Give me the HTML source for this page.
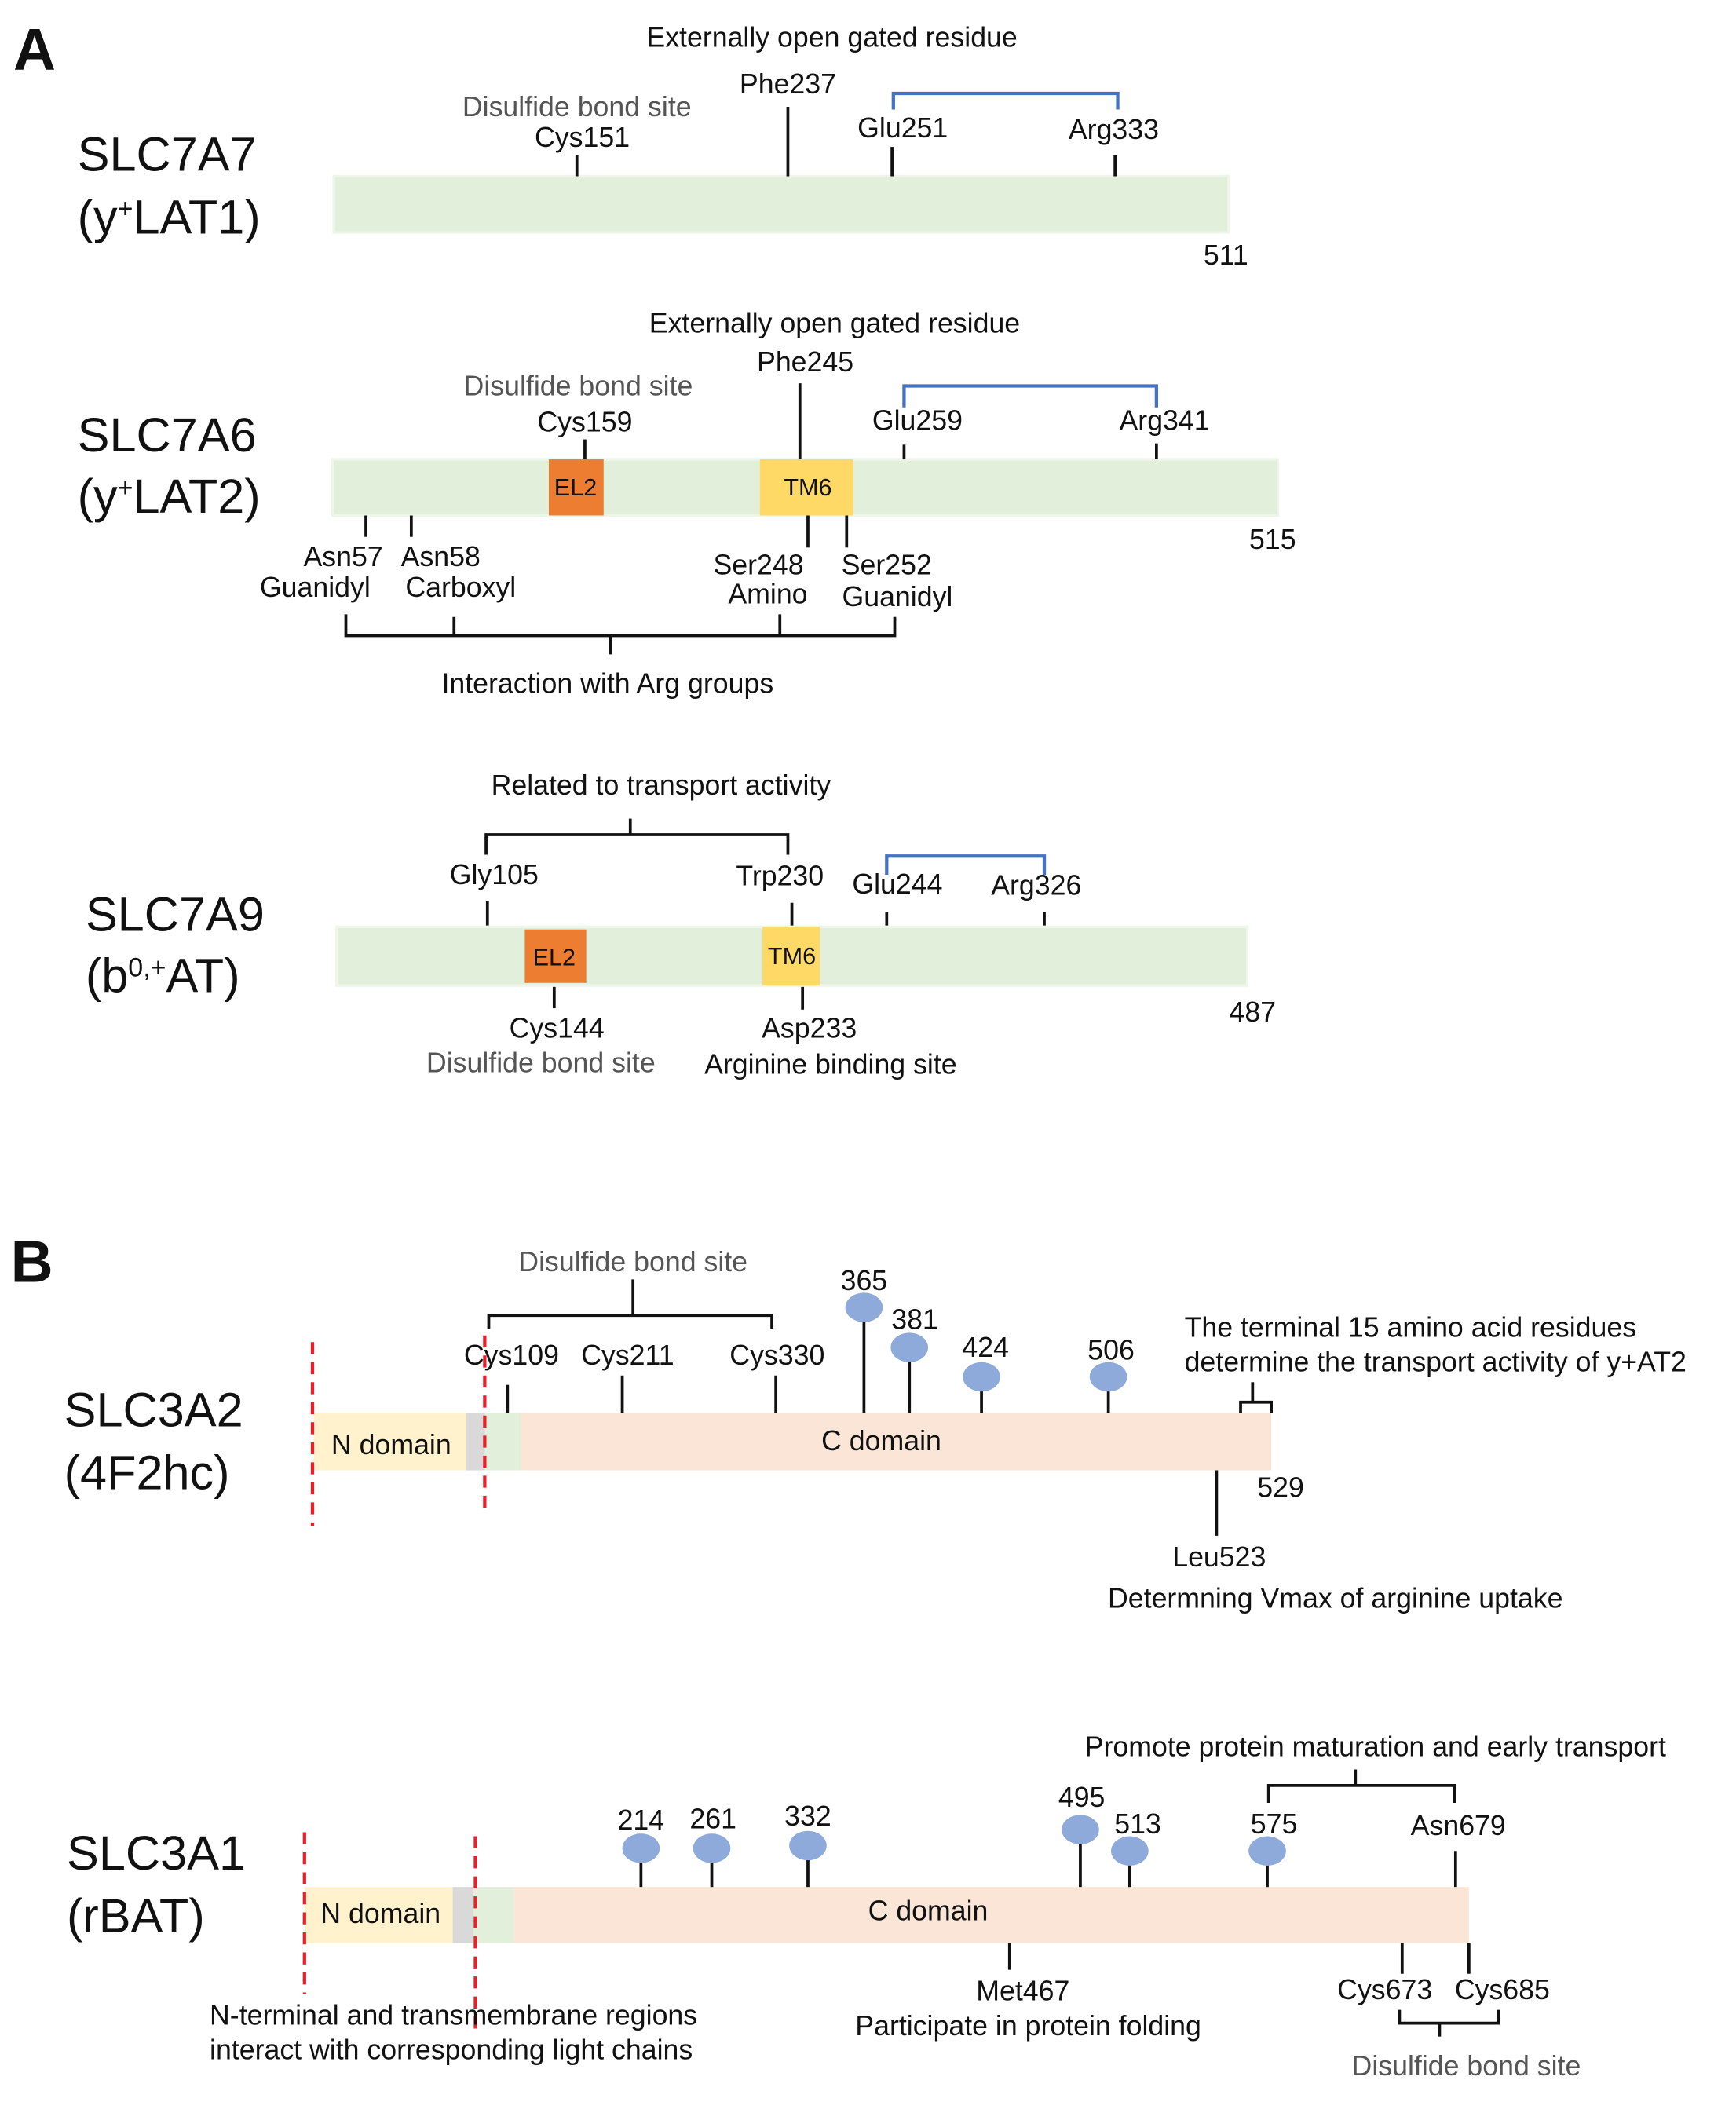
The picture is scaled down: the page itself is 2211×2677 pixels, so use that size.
<!DOCTYPE html>
<html><head><meta charset="utf-8"><style>
html,body{margin:0;padding:0;background:#fff}
svg{display:block}
text{font-family:"Liberation Sans",Arial,sans-serif;fill:#111}
.s{font-size:21px}
.g{fill:#555}
.t{font-size:36px}
.c{text-anchor:middle}
.k line,.k polyline{stroke:#111;stroke-width:2.2;fill:none}
.b{stroke:#4472c4;stroke-width:2.5;fill:none}
.r{stroke:#e8202a;stroke-width:2.5;stroke-dasharray:9 6}
.gl{fill:#8eaadb}
</style></head><body>
<svg width="2211" height="2677" viewBox="0 0 1300 1574" xmlns="http://www.w3.org/2000/svg">
<rect width="1300" height="1574" fill="#fff"/>
<text x="10" y="52" style="font-size:44px;font-weight:bold">A</text>

<!-- SLC7A7 -->
<text x="58" y="128" class="t">SLC7A7</text>
<text x="58" y="175" class="t">(y<tspan dy="-12" style="font-size:20px">+</tspan><tspan dy="12">LAT1)</tspan></text>
<rect x="250" y="132" width="670" height="42" fill="#e2efda" stroke="#eef6ea" stroke-width="2"/>
<g class="k"><line x1="432" y1="116" x2="432" y2="132"/><line x1="590" y1="80" x2="590" y2="132"/><line x1="668" y1="110" x2="668" y2="132"/><line x1="835" y1="116" x2="835" y2="132"/></g>
<polyline class="b" points="669,82 669,70 837,70 837,82"/>
<text x="623" y="35" class="s c">Externally open gated residue</text>
<text x="590" y="70" class="s c">Phe237</text>
<text x="432" y="87" class="s c g">Disulfide bond site</text>
<text x="436" y="110" class="s c">Cys151</text>
<text x="676" y="103" class="s c">Glu251</text>
<text x="834" y="104" class="s c">Arg333</text>
<text x="918" y="198" class="s c">511</text>

<!-- SLC7A6 -->
<text x="58" y="338" class="t">SLC7A6</text>
<text x="58" y="384" class="t">(y<tspan dy="-12" style="font-size:20px">+</tspan><tspan dy="12">LAT2)</tspan></text>
<rect x="249" y="344" width="708" height="42" fill="#e2efda" stroke="#eef6ea" stroke-width="2"/>
<rect x="411" y="344" width="41" height="42" fill="#ed7d31"/>
<rect x="569" y="344" width="70" height="42" fill="#ffd966"/>
<text x="431" y="371" class="c" style="font-size:18px">EL2</text>
<text x="605" y="371" class="c" style="font-size:18px">TM6</text>
<g class="k"><line x1="599" y1="287" x2="599" y2="344"/><line x1="438" y1="329" x2="438" y2="344"/><line x1="677" y1="333" x2="677" y2="344"/><line x1="866" y1="332" x2="866" y2="344"/>
<line x1="274" y1="386" x2="274" y2="402"/><line x1="308" y1="386" x2="308" y2="402"/><line x1="605" y1="386" x2="605" y2="410"/><line x1="634" y1="386" x2="634" y2="410"/>
<polyline points="259,460 259,476 670,476 670,462"/><line x1="340" y1="462" x2="340" y2="476"/><line x1="584" y1="460" x2="584" y2="476"/><line x1="457" y1="476" x2="457" y2="490"/></g>
<polyline class="b" points="677,305 677,289 866,289 866,305"/>
<text x="625" y="249" class="s c">Externally open gated residue</text>
<text x="603" y="278" class="s c">Phe245</text>
<text x="433" y="296" class="s c g">Disulfide bond site</text>
<text x="438" y="323" class="s c">Cys159</text>
<text x="687" y="322" class="s c">Glu259</text>
<text x="872" y="322" class="s c">Arg341</text>
<text x="953" y="411" class="s c">515</text>
<text x="257" y="424" class="s c">Asn57</text>
<text x="236" y="447" class="s c">Guanidyl</text>
<text x="330" y="424" class="s c">Asn58</text>
<text x="345" y="447" class="s c">Carboxyl</text>
<text x="568" y="430" class="s c">Ser248</text>
<text x="575" y="452" class="s c">Amino</text>
<text x="664" y="430" class="s c">Ser252</text>
<text x="672" y="454" class="s c">Guanidyl</text>
<text x="455" y="519" class="s c">Interaction with Arg groups</text>

<!-- SLC7A9 -->
<text x="64" y="697" class="t">SLC7A9</text>
<text x="64" y="743" class="t">(b<tspan dy="-12" style="font-size:20px">0,+</tspan><tspan dy="12">AT)</tspan></text>
<text x="495" y="595" class="s c">Related to transport activity</text>
<g class="k"><line x1="472" y1="613" x2="472" y2="625"/><polyline points="364,640 364,625 590,625 590,640"/>
<line x1="365" y1="675" x2="365" y2="694"/><line x1="593" y1="676" x2="593" y2="694"/><line x1="664" y1="683" x2="664" y2="694"/><line x1="782" y1="683" x2="782" y2="694"/>
<line x1="415" y1="738" x2="415" y2="755"/><line x1="601" y1="738" x2="601" y2="756"/></g>
<polyline class="b" points="664,655 664,641 782,641 782,655"/>
<rect x="252" y="694" width="682" height="44" fill="#e2efda" stroke="#eef6ea" stroke-width="2"/>
<rect x="393" y="696" width="46" height="40" fill="#ed7d31"/>
<rect x="571" y="694" width="43" height="44" fill="#ffd966"/>
<text x="415" y="723" class="c" style="font-size:18px">EL2</text>
<text x="593" y="722" class="c" style="font-size:18px">TM6</text>
<text x="370" y="662" class="s c">Gly105</text>
<text x="584" y="663" class="s c">Trp230</text>
<text x="672" y="669" class="s c">Glu244</text>
<text x="776" y="670" class="s c">Arg326</text>
<text x="417" y="777" class="s c">Cys144</text>
<text x="405" y="803" class="s c g">Disulfide bond site</text>
<text x="606" y="777" class="s c">Asp233</text>
<text x="622" y="804" class="s c">Arginine binding site</text>
<text x="938" y="765" class="s c">487</text>

<!-- B -->
<text x="8" y="960" style="font-size:44px;font-weight:bold">B</text>
<text x="48" y="1068" class="t">SLC3A2</text>
<text x="48" y="1115" class="t">(4F2hc)</text>
<rect x="235" y="1058" width="114" height="43" fill="#fff2cc"/>
<rect x="349" y="1058" width="14" height="43" fill="#d9d9d9"/>
<rect x="363" y="1058" width="27" height="43" fill="#e2efda"/>
<rect x="390" y="1058" width="562" height="43" fill="#fbe5d6"/>
<text x="293" y="1089" class="s c">N domain</text>
<text x="660" y="1086" class="s c">C domain</text>
<line class="r" x1="234" y1="1005" x2="234" y2="1143"/>
<line class="r" x1="363" y1="1000" x2="363" y2="1133"/>
<text x="474" y="952" class="s c g">Disulfide bond site</text>
<g class="k"><line x1="474" y1="958" x2="474" y2="985"/><polyline points="366,995 366,985 578,985 578,995"/>
<line x1="380" y1="1037" x2="380" y2="1058"/><line x1="466" y1="1030" x2="466" y2="1058"/><line x1="581" y1="1030" x2="581" y2="1058"/>
<line x1="647" y1="985" x2="647" y2="1058"/><line x1="681" y1="1015" x2="681" y2="1058"/><line x1="735" y1="1037" x2="735" y2="1058"/><line x1="830" y1="1037" x2="830" y2="1058"/>
<polyline points="929,1058 929,1050 952,1050 952,1058"/><line x1="938" y1="1035" x2="938" y2="1050"/>
<line x1="911" y1="1101" x2="911" y2="1150"/></g>
<ellipse class="gl" cx="647" cy="979" rx="14" ry="11"/>
<ellipse class="gl" cx="681" cy="1009" rx="14" ry="11"/>
<ellipse class="gl" cx="735" cy="1031" rx="14" ry="11"/>
<ellipse class="gl" cx="830" cy="1031" rx="14" ry="11"/>
<text x="383" y="1022" class="s c">Cys109</text>
<text x="470" y="1022" class="s c">Cys211</text>
<text x="582" y="1022" class="s c">Cys330</text>
<text x="647" y="966" class="s c">365</text>
<text x="685" y="995" class="s c">381</text>
<text x="738" y="1016" class="s c">424</text>
<text x="832" y="1018" class="s c">506</text>
<text x="887" y="1001" class="s">The terminal 15 amino acid residues</text>
<text x="887" y="1027" class="s">determine the transport activity of y+AT2</text>
<text x="959" y="1121" class="s c">529</text>
<text x="913" y="1173" class="s c">Leu523</text>
<text x="1000" y="1204" class="s c">Determning Vmax of arginine uptake</text>

<!-- SLC3A1 -->
<text x="50" y="1400" class="t">SLC3A1</text>
<text x="50" y="1447" class="t">(rBAT)</text>
<text x="1030" y="1315" class="s c">Promote protein maturation and early transport</text>
<rect x="228" y="1413" width="111" height="42" fill="#fff2cc"/>
<rect x="339" y="1413" width="15" height="42" fill="#d9d9d9"/>
<rect x="354" y="1413" width="31" height="42" fill="#e2efda"/>
<rect x="385" y="1413" width="715" height="42" fill="#fbe5d6"/>
<text x="285" y="1440" class="s c">N domain</text>
<text x="695" y="1438" class="s c">C domain</text>
<line class="r" x1="228" y1="1372" x2="228" y2="1493"/>
<line class="r" x1="356" y1="1375" x2="356" y2="1520"/>
<g class="k"><line x1="1015" y1="1325" x2="1015" y2="1337"/><polyline points="950,1350 950,1337 1089,1337 1089,1350"/>
<line x1="480" y1="1390" x2="480" y2="1413"/><line x1="533" y1="1390" x2="533" y2="1413"/><line x1="605" y1="1388" x2="605" y2="1413"/><line x1="809" y1="1376" x2="809" y2="1413"/><line x1="846" y1="1392" x2="846" y2="1413"/><line x1="949" y1="1392" x2="949" y2="1413"/><line x1="1090" y1="1386" x2="1090" y2="1413"/>
<line x1="756" y1="1455" x2="756" y2="1475"/><line x1="1050" y1="1455" x2="1050" y2="1478"/><line x1="1100" y1="1455" x2="1100" y2="1478"/>
<polyline points="1048,1505 1048,1515 1122,1515 1122,1505"/><line x1="1078" y1="1515" x2="1078" y2="1525"/></g>
<ellipse class="gl" cx="480" cy="1384" rx="14" ry="11"/>
<ellipse class="gl" cx="533" cy="1384" rx="14" ry="11"/>
<ellipse class="gl" cx="605" cy="1382" rx="14" ry="11"/>
<ellipse class="gl" cx="809" cy="1370" rx="14" ry="11"/>
<ellipse class="gl" cx="846" cy="1386" rx="14" ry="11"/>
<ellipse class="gl" cx="949" cy="1386" rx="14" ry="11"/>
<text x="480" y="1370" class="s c">214</text>
<text x="534" y="1369" class="s c">261</text>
<text x="605" y="1367" class="s c">332</text>
<text x="810" y="1353" class="s c">495</text>
<text x="852" y="1373" class="s c">513</text>
<text x="954" y="1373" class="s c">575</text>
<text x="1092" y="1374" class="s c">Asn679</text>
<text x="766" y="1498" class="s c">Met467</text>
<text x="770" y="1524" class="s c">Participate in protein folding</text>
<text x="1037" y="1497" class="s c">Cys673</text>
<text x="1125" y="1497" class="s c">Cys685</text>
<text x="1098" y="1554" class="s c g">Disulfide bond site</text>
<text x="157" y="1516" class="s">N-terminal and transmembrane regions</text>
<text x="157" y="1542" class="s">interact with corresponding light chains</text>
</svg>
</body></html>
